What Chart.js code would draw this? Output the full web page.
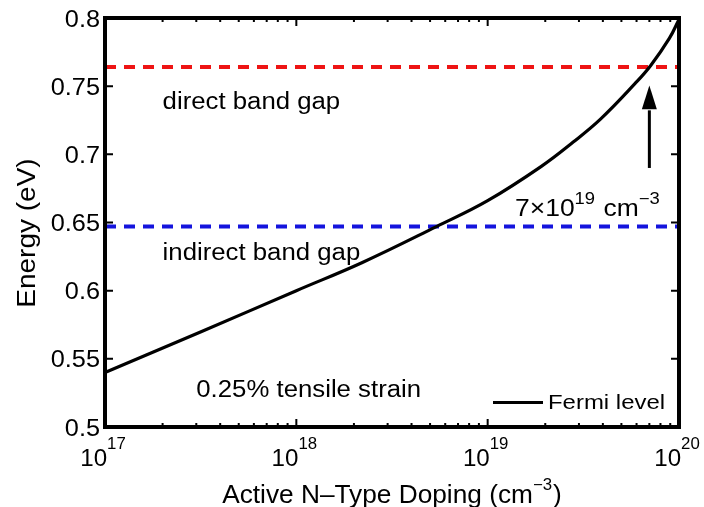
<!DOCTYPE html>
<html>
<head>
<meta charset="utf-8">
<script src="https://cdn.jsdelivr.net/npm/chart.js@4/dist/chart.umd.min.js"></script>
<style>
  body { margin: 0; background: #fff; }
  canvas { display: block; }
</style>
</head>
<body>
<canvas id="chart" width="704" height="507"></canvas>
<script>
// data
const doping = [1e17, 3.2e17, 1e18, 2.2e18, 5.4e18, 1e19, 1.9e19, 2.8e19, 3.9e19, 5.9e19, 7.1e19, 8.9e19, 1e20];
const fermiLevel = [0.540, 0.570, 0.600, 0.6205, 0.647, 0.666, 0.691, 0.709, 0.726, 0.752, 0.765, 0.785, 0.799];
const directGap = 0.764;
const indirectGap = 0.647;
const xRange = [1e17, 1e20];
const yRange = [0.5, 0.8];
const yTickValues = [0.5, 0.55, 0.6, 0.65, 0.7, 0.75, 0.8];
const yTickLabels = ['0.5', '0.55', '0.6', '0.65', '0.7', '0.75', '0.8'];
const xTickExponents = [17, 18, 19, 20];
const crossingDoping = 7e19;

const FONT = '"Liberation Sans", Arial, Helvetica, sans-serif';

function txt(ctx, str, x, y, size, align, sx) {
  ctx.save();
  ctx.font = size + 'px ' + FONT;
  ctx.fillStyle = '#000';
  ctx.textAlign = align || 'left';
  ctx.textBaseline = 'alphabetic';
  ctx.translate(x, y);
  ctx.scale(sx || 1.08, 1);
  ctx.fillText(str, 0, 0);
  ctx.restore();
}

function width(ctx, str, size, sx) {
  ctx.font = size + 'px ' + FONT;
  return ctx.measureText(str).width * (sx || 1.08);
}

// draw pieces left to right, superscripts raised and smaller
function richText(ctx, parts, x, y, size, supSize, rise, sx) {
  let cx = x;
  parts.forEach(p => {
    const s = p.sup ? supSize : size;
    const yy = p.sup ? y - rise : y;
    txt(ctx, p.t, cx, yy, s, 'left', sx);
    cx += width(ctx, p.t, s, sx) + (p.sup ? 1 : 0);
  });
  return cx - x;
}

const decorations = {
  id: 'decorations',
  beforeDatasetsDraw(chart) {
    const ctx = chart.ctx;
    const xs = chart.scales.x, ys = chart.scales.y;
    txt(ctx, 'direct band gap', xs.getPixelForValue(2e17), ys.getPixelForValue(0.7335), 23, 'left', 1.12);
    txt(ctx, 'indirect band gap', xs.getPixelForValue(2e17), ys.getPixelForValue(0.6226), 23, 'left', 1.12);
    txt(ctx, '0.25% tensile strain', xs.getPixelForValue(3e17), ys.getPixelForValue(0.5223), 23, 'left', 1.12);
    richText(ctx, [{ t: '7×10' }, { t: '19', sup: true }, { t: ' cm' }, { t: '−3', sup: true }],
      xs.getPixelForValue(1.39e19), ys.getPixelForValue(0.6545), 23, 16, 12, 1.15);
  },
  afterDatasetsDraw(chart) {
    const ctx = chart.ctx;
    const a = chart.chartArea;
    const xs = chart.scales.x, ys = chart.scales.y;

    // arrow pointing at the crossing
    const ax = xs.getPixelForValue(crossingDoping);
    const yTip = ys.getPixelForValue(0.7505), yBase = ys.getPixelForValue(0.733), yEnd = ys.getPixelForValue(0.690);
    ctx.save();
    ctx.strokeStyle = '#000';
    ctx.fillStyle = '#000';
    ctx.lineWidth = 3;
    ctx.beginPath();
    ctx.moveTo(ax, yEnd);
    ctx.lineTo(ax, yBase + 1);
    ctx.stroke();
    ctx.beginPath();
    ctx.moveTo(ax, yTip);
    ctx.lineTo(ax - 7.5, yBase);
    ctx.lineTo(ax + 7.5, yBase);
    ctx.closePath();
    ctx.fill();

    // ticks, pointing inwards
    ctx.lineWidth = 2;
    yTickValues.forEach(v => {
      const y = ys.getPixelForValue(v);
      ctx.beginPath();
      ctx.moveTo(a.left, y); ctx.lineTo(a.left + 8, y);
      ctx.moveTo(a.right, y); ctx.lineTo(a.right - 8, y);
      ctx.stroke();
    });
    for (let e = 17; e < 20; e++) {
      for (let k = 1; k <= 9; k++) {
        const x = xs.getPixelForValue(k * Math.pow(10, e));
        const len = k === 1 ? 8 : 4;
        ctx.beginPath();
        ctx.moveTo(x, a.bottom); ctx.lineTo(x, a.bottom - len);
        ctx.moveTo(x, a.top); ctx.lineTo(x, a.top + len);
        ctx.stroke();
      }
    }

    // box
    ctx.lineWidth = 4;
    ctx.strokeRect(a.left, a.top, a.right - a.left, a.bottom - a.top);

    // legend
    const ds = chart.data.datasets[0];
    ctx.lineWidth = 3;
    ctx.beginPath();
    ctx.moveTo(493, 402.5); ctx.lineTo(543, 402.5);
    ctx.stroke();
    ctx.restore();
    txt(ctx, ds.label, 548, 409, 21, 'left', 1.14);

    // y tick labels
    yTickValues.forEach((v, i) => {
      txt(ctx, yTickLabels[i], a.left - 5, ys.getPixelForValue(v) + 8.5, 23, 'right', 1.1);
    });
    // x tick labels 10^n
    xTickExponents.forEach(e => {
      const x = xs.getPixelForValue(Math.pow(10, e));
      const w = width(ctx, '10', 23, 1.05) + 2 + width(ctx, String(e), 16, 1.05);
      richText(ctx, [{ t: '10' }, { t: String(e), sup: true }], x - w / 2 - 1, 466, 23, 16, 17, 1.05);
    });

    // axis titles
    const tw = width(ctx, 'Active N–Type Doping (cm', 25, 1.05) + width(ctx, '−3', 16, 1.05) + 1 + width(ctx, ')', 25, 1.05);
    richText(ctx, [{ t: 'Active N–Type Doping (cm' }, { t: '−3', sup: true }, { t: ')' }],
      (a.left + a.right) / 2 - tw / 2, 503, 25, 16, 13, 1.05);

    ctx.save();
    ctx.translate(35, 233);
    ctx.rotate(-Math.PI / 2);
    txt(ctx, 'Energy (eV)', 0, 0, 25, 'center', 1.12);
    ctx.restore();
  }
};

new Chart(document.getElementById('chart'), {
  type: 'line',
  data: {
    datasets: [
      {
        label: 'Fermi level',
        data: doping.map((d, i) => ({ x: d, y: fermiLevel[i] })),
        borderColor: '#000',
        borderWidth: 3.2,
        pointRadius: 0,
        tension: 0.4,
        order: 0
      },
      {
        label: 'direct band gap',
        data: xRange.map(d => ({ x: d, y: directGap })),
        borderColor: '#ee1414',
        borderWidth: 4,
        borderDash: [11, 8],
        pointRadius: 0,
        order: 1
      },
      {
        label: 'indirect band gap',
        data: xRange.map(d => ({ x: d, y: indirectGap })),
        borderColor: '#1414dd',
        borderWidth: 4,
        borderDash: [11, 8],
        pointRadius: 0,
        order: 1
      }
    ]
  },
  options: {
    responsive: false,
    animation: false,
    layout: { padding: { left: 105, right: 25, top: 18, bottom: 80 } },
    plugins: { legend: { display: false }, tooltip: { enabled: false } },
    scales: {
      x: { type: 'logarithmic', min: xRange[0], max: xRange[1], display: false },
      y: { type: 'linear', min: yRange[0], max: yRange[1], display: false }
    }
  },
  plugins: [decorations]
});
</script>
</body>
</html>
